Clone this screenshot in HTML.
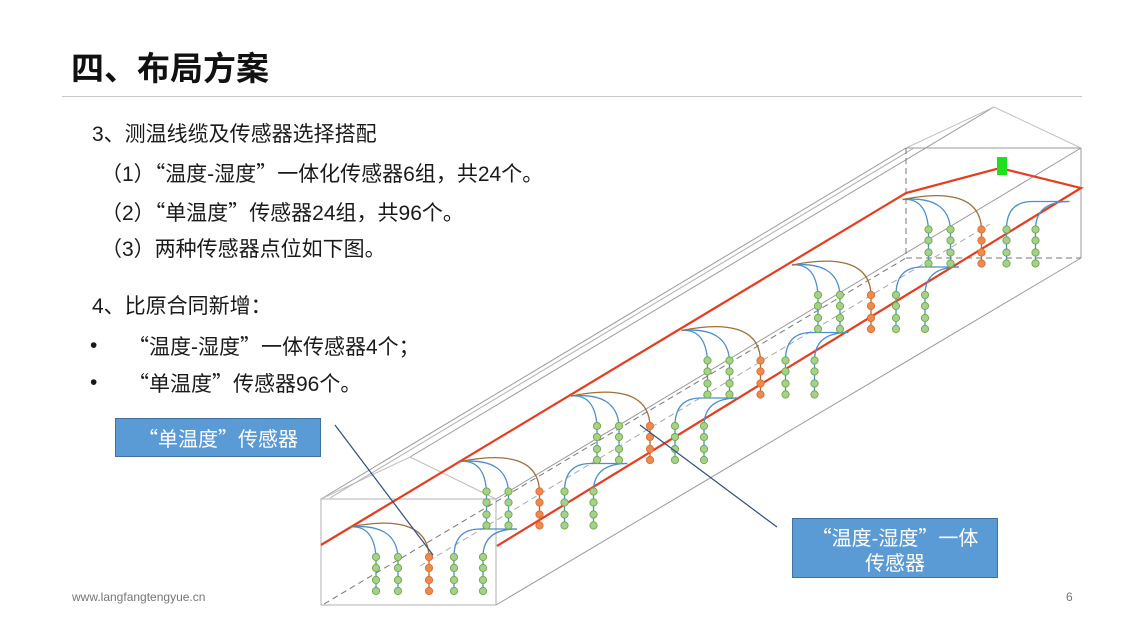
<!DOCTYPE html>
<html><head><meta charset="utf-8"><style>
html,body{margin:0;padding:0;background:#fff;}
body{width:1145px;height:644px;position:relative;overflow:hidden;font-family:"Liberation Sans","Noto Sans CJK SC",sans-serif;}
.t{position:absolute;white-space:nowrap;font-size:21px;color:#1a1a1a;line-height:26px;}
.q{font-family:"Noto Sans CJK SC",sans-serif;}
.box{position:absolute;background:#5B9BD5;border:1px solid #41719C;color:#fff;font-size:20px;text-align:center;box-sizing:border-box;}
</style></head><body>
<div class="t" style="left:71px;top:49px;font-size:33px;font-weight:bold;line-height:40px;color:#111;">四、布局方案</div>
<div style="position:absolute;left:62px;top:96px;width:1020px;height:1px;background:#c8c8c8;"></div>
<div class="t" style="left:92px;top:122px;">3、测温线缆及传感器选择搭配</div>
<div class="t" style="left:101px;top:160px;">（1）<span class="q">“</span>温度-湿度<span class="q">”</span>一体化传感器6组，共24个。</div>
<div class="t" style="left:101px;top:199px;">（2）<span class="q">“</span>单温度<span class="q">”</span>传感器24组，共96个。</div>
<div class="t" style="left:101px;top:237px;">（3）两种传感器点位如下图。</div>
<div class="t" style="left:92px;top:294px;">4、比原合同新增：</div>
<div class="t" style="left:90px;top:333px;">•</div>
<div class="t" style="left:128px;top:333px;"><span class="q">“</span>温度-湿度<span class="q">”</span>一体传感器4个；</div>
<div class="t" style="left:90px;top:370px;">•</div>
<div class="t" style="left:128px;top:370px;"><span class="q">“</span>单温度<span class="q">”</span>传感器96个。</div>
<svg id="sv" width="1145" height="644" style="position:absolute;left:0;top:0;">
<g fill="none" stroke="#9a9a9a" stroke-width="1">
<line x1="321" y1="499" x2="906" y2="148"/>
<line x1="410" y1="457" x2="994" y2="107"/>
<line x1="496" y1="499" x2="1081" y2="148"/>
<line x1="496" y1="605" x2="1081" y2="258"/>
<line x1="906" y1="148" x2="1081" y2="148"/>
<line x1="1081" y1="148" x2="1081" y2="258"/>
<line x1="906" y1="148" x2="994" y2="107" stroke="#c0c0c0"/>
<line x1="994" y1="107" x2="1081" y2="148" stroke="#c0c0c0"/>
<rect x="321" y="499" width="175" height="106" stroke="#b0b0b0"/>
<line x1="321" y1="499" x2="410" y2="457" stroke="#c0c0c0"/>
<line x1="410" y1="457" x2="496" y2="499" stroke="#c0c0c0"/>
<line x1="330" y1="498" x2="914" y2="148" stroke="#b0b0b0"/>
</g>
<g fill="none" stroke="#777" stroke-width="1" stroke-dasharray="6,4">
<line x1="324" y1="604" x2="906" y2="258"/>
<line x1="906" y1="148" x2="906" y2="258"/>
<line x1="906" y1="258" x2="1081" y2="258"/>
<line x1="420" y1="566" x2="990" y2="224" stroke="#aaa"/>
</g>
<g fill="none" stroke="#e53d1e" stroke-width="2.2">
<polyline points="321,545 906,193 1000,168 1081,188 497,546"/>
</g>
<rect x="997" y="157" width="10" height="18" fill="#1ee01e"/>
<g id="groups"></g>
<line x1="335" y1="425" x2="433" y2="555" stroke="#2e4e7e" stroke-width="1.2"/>
<line x1="640" y1="425" x2="777" y2="527" stroke="#2e4e7e" stroke-width="1.2"/>
</svg>
<div class="box" style="left:115px;top:418px;width:206px;height:39px;line-height:37px;"><span class="q">“</span>单温度<span class="q">”</span>传感器</div>
<div class="box" style="left:792px;top:518px;width:206px;height:60px;line-height:25px;padding-top:5px;"><span class="q">“</span>温度-湿度<span class="q">”</span>一体<br>传感器</div>
<div class="t" style="left:72px;top:589px;font-size:12px;color:#777;line-height:16px;">www.langfangtengyue.cn</div>
<div class="t" style="left:1066px;top:589px;font-size:12px;color:#777;line-height:16px;">6</div>
<script>
var g=document.getElementById('groups'),s='';
for(var i=0;i<6;i++){
 var ax=350+i*110.5, ay=527-i*65.5;
 s+='<path d="M'+ax+' '+ay+' Q'+(ax+24)+' '+(ay-2)+' '+(ax+26)+' '+(ay+30)+' L'+(ax+26)+' '+(ay+68)+'" fill="none" stroke="#4a8fd0" stroke-width="1.3"/>';
 s+='<path d="M'+ax+' '+ay+' Q'+(ax+46)+' '+(ay-4)+' '+(ax+48)+' '+(ay+30)+' L'+(ax+48)+' '+(ay+68)+'" fill="none" stroke="#4a8fd0" stroke-width="1.3"/>';
 s+='<path d="M'+ax+' '+ay+' C'+(ax+40)+' '+(ay-8)+' '+(ax+78)+' '+(ay-6)+' '+(ax+79)+' '+(ay+30)+' L'+(ax+79)+' '+(ay+68)+'" fill="none" stroke="#a0703a" stroke-width="1.3"/>';
 var tx=ax+167, ty=ay+2;
 s+='<path d="M'+tx+' '+ty+' L'+(ax+130)+' '+ty+' Q'+(ax+104)+' '+ty+' '+(ax+104)+' '+(ay+30)+' L'+(ax+104)+' '+(ay+68)+'" fill="none" stroke="#4a8fd0" stroke-width="1.3"/>';
 s+='<path d="M'+tx+' '+ty+' Q'+(ax+133)+' '+ty+' '+(ax+133)+' '+(ay+30)+' L'+(ax+133)+' '+(ay+68)+'" fill="none" stroke="#4a8fd0" stroke-width="1.3"/>';
 var cols=[[26,'#a8d08d','#70ad47'],[48,'#a8d08d','#70ad47'],[79,'#ed8b4f','#e07030'],[104,'#a8d08d','#70ad47'],[133,'#a8d08d','#70ad47']];
 cols.forEach(function(c){[30,41,53,64].forEach(function(d){
  s+='<circle cx="'+(ax+c[0])+'" cy="'+(ay+d)+'" r="3.6" fill="'+c[1]+'" stroke="'+c[2]+'" stroke-width="1"/>';});});
}
g.innerHTML=s;
</script>
</body></html>
